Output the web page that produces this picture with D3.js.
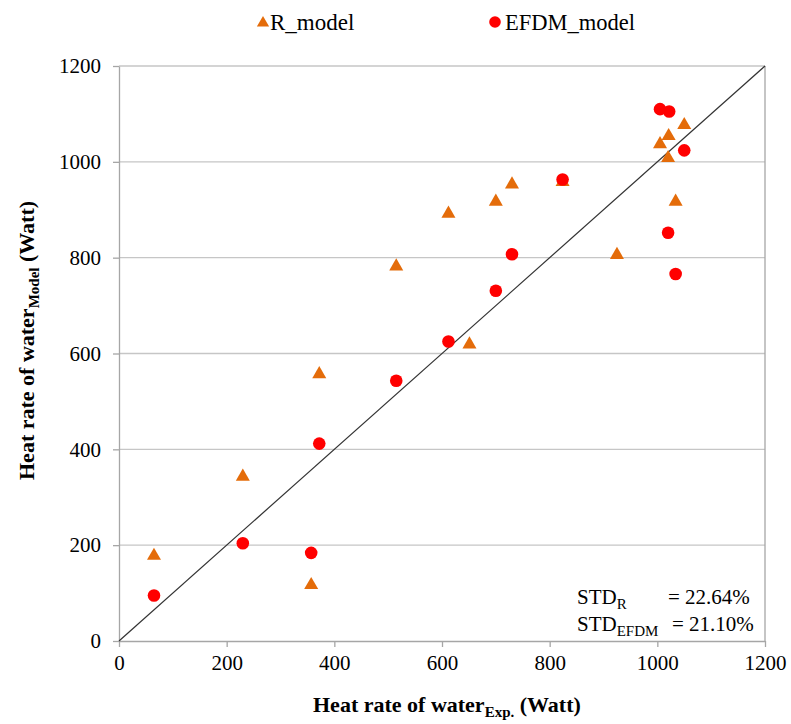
<!DOCTYPE html>
<html><head><meta charset="utf-8">
<script src="https://cdn.jsdelivr.net/npm/d3@7"></script>
<style>body{margin:0;background:#fff}svg{display:block}</style>
</head><body>
<script>
const rX = [65,230,357,372,515,612,651,700,730,824,925,1005,1021,1050,1020,1034];
const rY = [180,345,119,559,784,894,621,919,955,960,808,1039,1056,1079,1010,919];
const eX = [65,230,357,372,515,612,700,730,824,1005,1022,1050,1020,1034];
const eY = [95,204,184,412,543,625,731,807,963,1110,1105,1024,852,766];
const xTicks = [0,200,400,600,800,1000,1200];
const yTicks = [0,200,400,600,800,1000,1200];

const FF="'Liberation Serif','Times New Roman',serif";
const W=791,H=724;
const svg=d3.select("body").append("svg").attr("width",W).attr("height",H).attr("font-family",FF);
const x=d3.scaleLinear().domain([0,1200]).range([119,765]);
const y=d3.scaleLinear().domain([0,1200]).range([641,66]);
const grid="#c6c6c6", axc="#a6a6a6";

// gridlines
svg.append("g").selectAll("line").data(yTicks.filter(d=>d>0)).join("line")
  .attr("x1",x(0)).attr("x2",x(1200)).attr("y1",d=>y(d)).attr("y2",d=>y(d))
  .attr("stroke",grid).attr("stroke-width",1.3);
// right border
svg.append("line").attr("x1",x(1200)).attr("x2",x(1200)).attr("y1",y(0)).attr("y2",y(1200)).attr("stroke",axc).attr("stroke-width",1.3);

// axes
const xAxis=svg.append("g").attr("transform",`translate(0,${y(0)})`)
  .call(d3.axisBottom(x).tickValues(xTicks).tickFormat(d3.format("d")).tickSize(6).tickSizeOuter(0).tickPadding(8));
const yAxis=svg.append("g").attr("transform",`translate(${x(0)},0)`)
  .call(d3.axisLeft(y).tickValues(yTicks).tickFormat(d3.format("d")).tickSize(6).tickSizeOuter(0).tickPadding(12));
[xAxis,yAxis].forEach(a=>{
  a.attr("font-family",FF).attr("font-size",21);
  a.select(".domain").attr("stroke",axc).attr("stroke-width",1.3);
  a.selectAll(".tick line").attr("stroke",axc).attr("stroke-width",1.3);
  a.selectAll(".tick text").attr("fill","#000");
});

// diagonal
svg.append("line").attr("x1",x(0)).attr("y1",y(0)).attr("x2",x(1200)).attr("y2",y(1200))
  .attr("stroke","#333").attr("stroke-width",1.2);

// R triangles
const tri=d3.symbol().type(d3.symbolTriangle).size(85);
const rData=rX.map((v,i)=>({x:v,y:rY[i]}));
svg.append("g").selectAll("path").data(rData).join("path")
  .attr("d",tri).attr("transform",d=>`translate(${x(d.x)},${y(d.y)+1})`)
  .attr("fill","#E46C0A");
// EFDM circles
const eData=eX.map((v,i)=>({x:v,y:eY[i]}));
svg.append("g").selectAll("circle").data(eData).join("circle")
  .attr("cx",d=>x(d.x)).attr("cy",d=>y(d.y)).attr("r",6.3).attr("fill","#FF0000");

// legend
svg.append("path").attr("d",d3.symbol().type(d3.symbolTriangle).size(65)).attr("transform","translate(263,23)").attr("fill","#E46C0A");
svg.append("text").attr("x",270).attr("y",30).attr("font-size",23).text("R_model");
svg.append("circle").attr("cx",495).attr("cy",22).attr("r",5.8).attr("fill","#FF0000");
svg.append("text").attr("x",505).attr("y",30).attr("font-size",22.5).text("EFDM_model");

// axis titles
const xt=svg.append("text").attr("x",313).attr("y",712).attr("font-size",22).attr("font-weight","bold");
xt.append("tspan").text("Heat rate of water");
xt.append("tspan").attr("font-size",15).attr("dy",5).text("Exp.");
xt.append("tspan").attr("dy",-5).text(" (Watt)");
const yt=svg.append("text").attr("transform","translate(34,480) rotate(-90)").attr("font-size",22).attr("font-weight","bold");
yt.append("tspan").text("Heat rate of water");
yt.append("tspan").attr("font-size",15).attr("dy",5).text("Model");
yt.append("tspan").attr("dy",-5).text(" (Watt)");

// STD annotation
const s1=svg.append("text").attr("x",577).attr("y",604).attr("font-size",21);
s1.append("tspan").text("STD");
s1.append("tspan").attr("font-size",15).attr("dy",5).text("R");
svg.append("text").attr("x",668).attr("y",604).attr("font-size",21).text("= 22.64%");
const s2=svg.append("text").attr("x",577).attr("y",631).attr("font-size",21);
s2.append("tspan").text("STD");
s2.append("tspan").attr("font-size",15).attr("dy",5).text("EFDM");
svg.append("text").attr("x",672).attr("y",631).attr("font-size",21).text("= 21.10%");
</script>
</body></html>
